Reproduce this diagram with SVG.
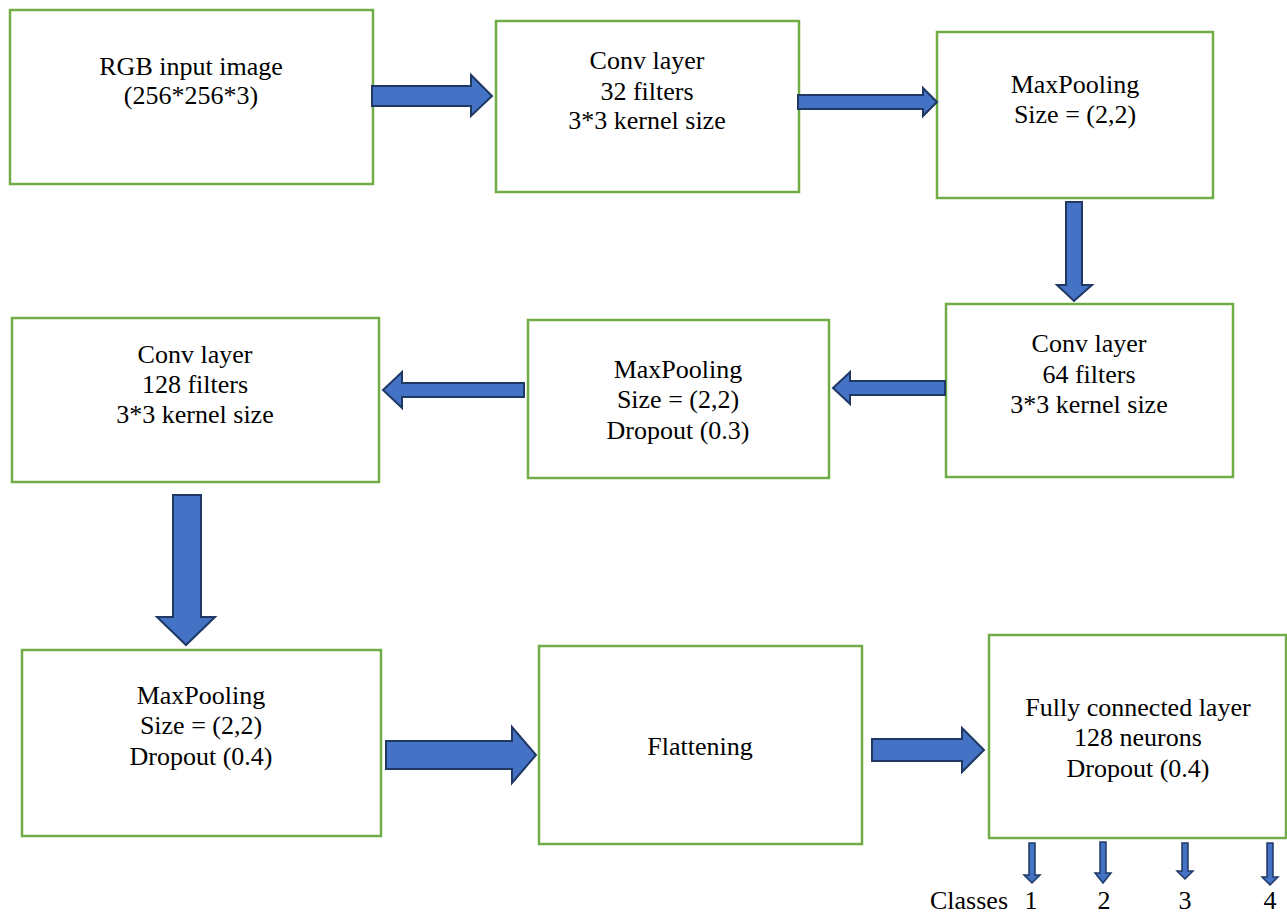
<svg xmlns="http://www.w3.org/2000/svg" width="1287" height="915" viewBox="0 0 1287 915">
<style>
.box{fill:#ffffff;stroke:#70AD47;stroke-width:2.5}
text{font-family:'Liberation Serif','DejaVu Serif',serif;font-size:26px;fill:#000000;text-anchor:middle}
.arr{fill:#4472C4;stroke:#1F3864;stroke-width:2;stroke-linejoin:miter}
.sarr{fill:#4472C4;stroke:#1F3864;stroke-width:1.5}
</style>
<rect width="1287" height="915" fill="#ffffff"/>
<g id="n1" font-family="Liberation Serif, serif"><rect class="box" x="10" y="10" width="363" height="174"/>
<text x="191" y="75">RGB input image</text><text x="191" y="104">(256*256*3)</text></g>
<g id="n2" font-family="Liberation Serif, serif"><rect class="box" x="496" y="21" width="303" height="171"/>
<text x="647" y="69">Conv layer</text><text x="647" y="100">32 filters</text><text x="647" y="129">3*3 kernel size</text></g>
<g id="n3" font-family="Liberation Serif, serif"><rect class="box" x="937" y="32" width="276" height="166"/>
<text x="1075" y="93">MaxPooling</text><text x="1075" y="123">Size = (2,2)</text></g>
<g id="n4" font-family="Liberation Serif, serif"><rect class="box" x="946" y="304" width="287" height="173"/>
<text x="1089" y="352">Conv layer</text><text x="1089" y="383">64 filters</text><text x="1089" y="413">3*3 kernel size</text></g>
<g id="n5" font-family="Liberation Serif, serif"><rect class="box" x="528" y="320" width="301" height="158"/>
<text x="678" y="378">MaxPooling</text><text x="678" y="408">Size = (2,2)</text><text x="678" y="439">Dropout (0.3)</text></g>
<g id="n6" font-family="Liberation Serif, serif"><rect class="box" x="12" y="318" width="367" height="164"/>
<text x="195" y="363">Conv layer</text><text x="195" y="393">128 filters</text><text x="195" y="423">3*3 kernel size</text></g>
<g id="n7" font-family="Liberation Serif, serif"><rect class="box" x="22" y="650" width="359" height="186"/>
<text x="201" y="704">MaxPooling</text><text x="201" y="734">Size = (2,2)</text><text x="201" y="765">Dropout (0.4)</text></g>
<g id="n8" font-family="Liberation Serif, serif"><rect class="box" x="539" y="646" width="323" height="198"/>
<text x="700" y="755">Flattening</text></g>
<g id="n9" font-family="Liberation Serif, serif"><rect class="box" x="989" y="635" width="297" height="203"/>
<text x="1138" y="716">Fully connected layer</text><text x="1138" y="746">128 neurons</text><text x="1138" y="777">Dropout (0.4)</text></g>
<g id="connectors">
<polygon class="arr" points="372,86 471,86 471,75 492,96 471,116 471,106 372,106"/>
<polygon class="arr" points="798,95 923,95 923,88 937,102 923,116 923,109 798,109"/>
<polygon class="arr" points="1066,202 1082,202 1082,285 1092,285 1074,301 1057,285 1066,285"/>
<polygon class="arr" points="945,381 850,381 850,372 833,388 850,404 850,395 945,395"/>
<polygon class="arr" points="524,383 402,383 402,372 383,390 402,408 402,397 524,397"/>
<polygon class="arr" points="173,495 201,495 201,617 215,617 186,645 157,617 173,617"/>
<polygon class="arr" points="386,741 512,741 512,727 536,755 512,783 512,769 386,769"/>
<polygon class="arr" points="872,739 962,739 962,728 984,750 962,772 962,761 872,761"/>
<polygon class="sarr" points="1029,843 1035,843 1035,875 1040,875 1032,883 1024,875 1029,875"/>
<polygon class="sarr" points="1100,842 1106,842 1106,873 1111,873 1103,883 1095,873 1100,873"/>
<polygon class="sarr" points="1182,843 1188,843 1188,871 1193,871 1185,879 1177,871 1182,871"/>
<polygon class="sarr" points="1267,843 1273,843 1273,877 1278,877 1270,885 1262,877 1267,877"/>
</g>
<g id="labels" font-family="Liberation Serif, serif">
<text x="1008" y="909" style="text-anchor:end">Classes</text>
<text x="1031" y="909">1</text>
<text x="1104" y="909">2</text>
<text x="1185" y="909">3</text>
<text x="1270" y="909">4</text>
</g>
</svg>
